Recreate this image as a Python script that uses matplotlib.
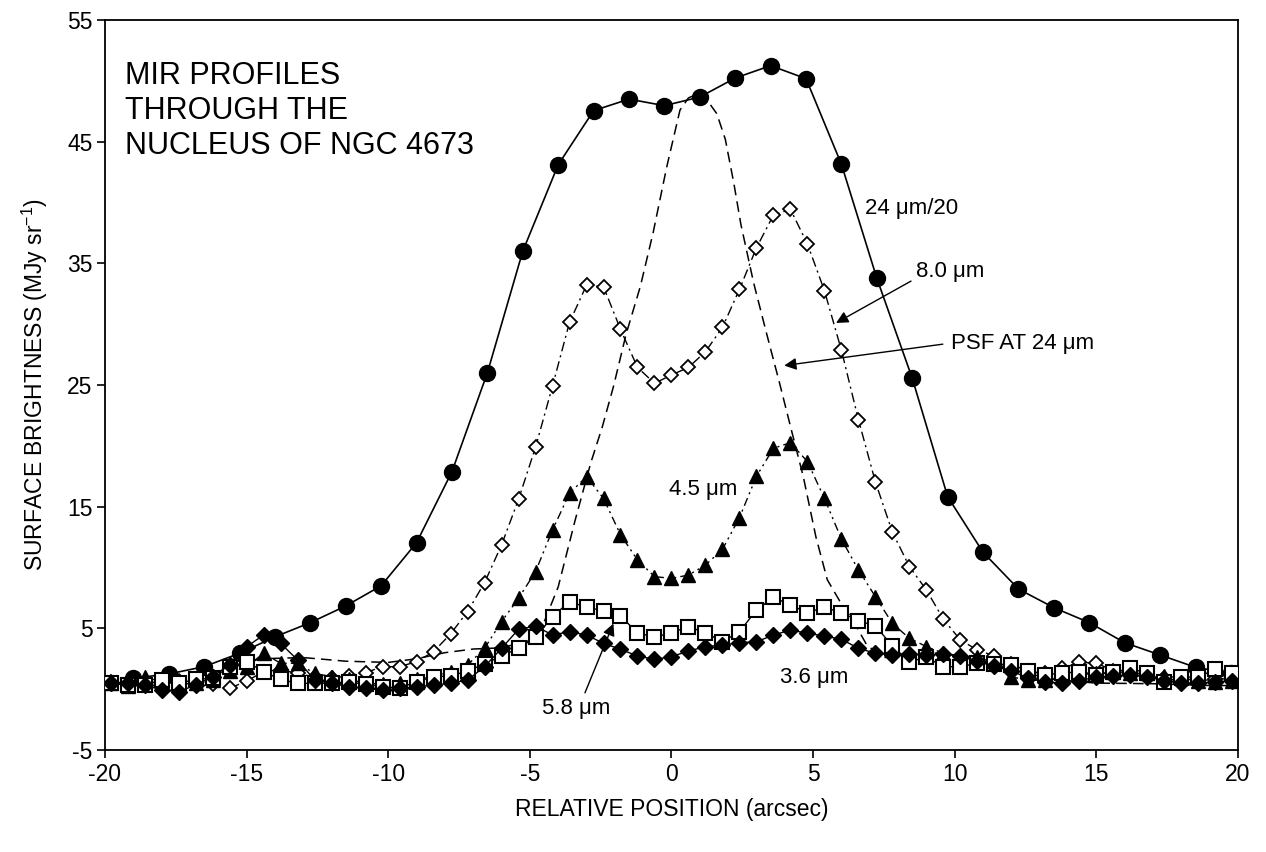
import numpy as np
import matplotlib
matplotlib.use("Agg")
import matplotlib.pyplot as plt

plt.rcParams['font.family'] = ['Liberation Sans', 'DejaVu Sans']
plt.rcParams['axes.unicode_minus'] = False

# ---- data ----
# 24 um / 20, MIPS sampling
x24 = np.arange(-19.0, 19.80, 1.25)
y24 = [0.9, 1.25, 1.85, 2.95, 4.3, 5.47, 6.84, 8.5, 12.04, 17.88, 26.0, 36.0,
       43.1, 47.55, 48.5, 47.96, 48.67, 50.23, 51.25, 50.18, 43.14, 33.77,
       25.55, 15.82, 11.25, 8.23, 6.7, 5.47, 3.82, 2.81, 1.8, 1.3]

# IRAC sampling
xirac = np.round(np.arange(-19.8, 19.81, 0.6), 1)

y80 = [0.6, 0.5, 0.5, 0.6, 0.7, 0.8, 0.4, 0.07, 0.67, 1.44, 1.6, 1.3,
       1.0, 0.9, 1.1, 1.36, 1.85, 1.85, 2.26, 3.08, 4.54, 6.37, 8.75, 11.85,
       15.6, 19.88, 24.92, 30.15, 33.2, 33.08, 29.58, 26.45, 25.14, 25.82, 26.45, 27.74,
       29.74, 32.87, 36.28, 38.97, 39.44, 36.59, 32.75, 27.85, 22.15, 17.02, 12.9, 10.07,
       8.15, 5.74, 4.04, 3.22, 2.73, 2.07, 1.5, 1.3, 1.72, 2.2, 2.15, 1.5,
       1.3, 1.1, 0.9, 0.8, 0.7, 0.8, 0.9]

y45 = [0.5, 0.3, 1.0, 0.6, 0.4, 0.5, 0.75, 1.5, 1.85, 2.95, 2.13, 2.13,
       1.3, 1.03, 0.8, 0.5, 0.4, 0.5, 0.8, 1.03, 1.44, 1.99, 3.36, 5.55,
       7.47, 9.66, 13.08, 16.1, 17.47, 15.68, 12.7, 10.62, 9.25, 9.11, 9.38, 10.2,
       11.5, 14.1, 17.5, 19.8, 20.26, 18.7, 15.68, 12.33, 9.8, 7.6, 5.4, 4.18,
       3.5, 2.95, 2.4, 2.67, 2.13, 1.0, 0.75, 0.75, 1.0, 1.2, 1.3, 1.4,
       1.3, 1.3, 1.1, 0.9, 0.7, 0.6, 0.7]

y58 = [0.5, 0.34, 0.34, 0.75, 0.48, 0.8, 0.9, 1.85, 2.26, 1.44, 0.8, 0.48,
       0.48, 0.5, 0.6, 0.4, 0.2, 0.1, 0.61, 1.03, 1.08, 1.5, 2.07, 2.73,
       3.36, 4.26, 5.96, 7.2, 6.73, 6.45, 6.0, 4.65, 4.26, 4.65, 5.13, 4.64,
       3.9, 4.73, 6.5, 7.55, 6.92, 6.29, 6.73, 6.29, 5.63, 5.2, 3.55, 2.26,
       2.62, 1.85, 1.85, 2.13, 2.07, 2.0, 1.5, 1.2, 1.3, 1.44, 1.2, 1.4,
       1.7, 1.3, 0.6, 1.0, 1.0, 1.65, 1.3]

y36 = [0.48, 0.48, 0.34, -0.07, -0.2, 0.34, 1.03, 2.0, 3.49, 4.45, 3.77, 2.4,
       0.75, 0.48, 0.2, 0.07, -0.07, 0.07, 0.2, 0.34, 0.48, 0.75, 1.85, 3.36,
       4.92, 5.19, 4.45, 4.73, 4.45, 3.77, 3.28, 2.73, 2.45, 2.67, 3.14, 3.49,
       3.63, 3.82, 3.9, 4.45, 4.86, 4.6, 4.37, 4.1, 3.36, 2.95, 2.81, 2.9,
       2.8, 2.9, 2.7, 2.3, 1.9, 1.5, 0.9, 0.6, 0.5, 0.7, 1.0, 1.1,
       1.2, 1.0, 0.7, 0.5, 0.5, 0.6, 0.7]

# PSF at 24 um (dashed curve, traced by eye)
xpsf = [-20.0, -18.0, -16.0, -14.5, -13.0, -11.5, -10.0, -9.0, -8.0, -7.0, -6.0,
        -5.0, -4.5, -4.0, -3.4, -2.85, -2.45, -2.05, -1.6, -1.1, -0.65, -0.17,
        0.3, 0.6, 0.9, 1.2, 1.6, 1.9, 2.2, 2.45, 2.9, 3.35, 3.8, 4.2, 4.65, 5.1,
        5.5, 6.0, 6.4, 6.9, 7.5, 8.5, 9.5, 10.5, 12.0, 13.5, 15.0, 17.0, 19.0, 20.0]
ypsf = [0.6, 0.8, 1.5, 2.5, 2.6, 2.3, 2.2, 2.5, 3.0, 3.3, 3.4,
        4.0, 5.5, 8.4, 13.9, 18.6, 21.5, 24.86, 29.2, 33.1, 37.5, 42.9,
        47.6, 48.6, 48.9, 48.6, 47.3, 45.2, 41.6, 38.2, 33.4, 29.3, 25.3, 21.6, 17.5, 12.5,
        9.0, 7.0, 5.7, 3.6, 2.6, 2.8, 3.0, 2.6, 1.6, 0.8, 0.5, 0.45, 0.3, 0.3]

title = "MIR PROFILES\nTHROUGH THE\nNUCLEUS OF NGC 4673"

fig = plt.figure(figsize=(12.66, 8.52), dpi=100)
ax = fig.add_axes([0.0829, 0.1197, 0.895, 0.8568])

ax.plot(xpsf, ypsf, color='black', lw=1.1, dashes=(7, 4), zorder=2)
ax.plot(x24, y24, color='black', lw=1.2, marker='o', ms=11.5, zorder=3)
ax.plot(xirac, y80, color='black', lw=1.0, dashes=(7, 3, 1.5, 3),
        marker='D', ms=7, mfc='white', mec='black', mew=1.3, zorder=3)
ax.plot(xirac, y45, color='black', lw=1.0, dashes=(6, 3, 1.5, 3, 1.5, 3),
        marker='^', ms=10, zorder=3)
ax.plot(xirac, y58, color='black', lw=1.0,
        marker='s', ms=10, mfc='white', mec='black', mew=1.5, zorder=3)
ax.plot(xirac, y36, color='black', lw=1.0,
        marker='D', ms=8.5, zorder=4)

ax.set_xlim(-20, 20)
ax.set_ylim(-5, 55)
ax.set_xticks(np.arange(-20, 21, 5))
ax.set_yticks(np.arange(-5, 56, 10))
ax.tick_params(direction='out', length=6, width=1.2, labelsize=16.5, pad=3)
for s in ax.spines.values():
    s.set_linewidth(1.3)

ax.set_xlabel('RELATIVE POSITION (arcsec)', fontsize=16.5, labelpad=9)
ax.set_ylabel(r'SURFACE BRIGHTNESS (MJy sr$^{\mathregular{-1}}$)', fontsize=16.5, labelpad=12)

ax.text(-19.3, 51.6, title, fontsize=22, va='top', ha='left', linespacing=1.2)

lab = dict(fontsize=16, va='center', ha='left')
ax.text(6.84, 39.5, '24 \u03bcm/20', **lab)
ax.text(-0.08, 16.45, '4.5 \u03bcm', **lab)
ax.text(3.83, 1.0, '3.6 \u03bcm', **lab)

arr = dict(arrowstyle='-|>', color='black', lw=1.0, mutation_scale=18)
ax.annotate('8.0 \u03bcm', xy=(5.81, 30.1), xytext=(8.64, 34.3),
            fontsize=16, va='center', ha='left',
            arrowprops=dict(arr, shrinkA=2, shrinkB=0, relpos=(0, 0.2)))
ax.annotate('PSF AT 24 \u03bcm', xy=(3.98, 26.6), xytext=(9.87, 28.45),
            fontsize=16, va='center', ha='left',
            arrowprops=dict(arr, shrinkA=4, shrinkB=0, relpos=(0, 0.5)))
ax.annotate('5.8 \u03bcm', xy=(-2.05, 5.4), xytext=(-4.58, -1.6),
            fontsize=16, va='center', ha='left',
            arrowprops=dict(arr, shrinkA=2, shrinkB=0, relpos=(0.6, 1.0)))

fig.savefig('out.png', dpi=100)
